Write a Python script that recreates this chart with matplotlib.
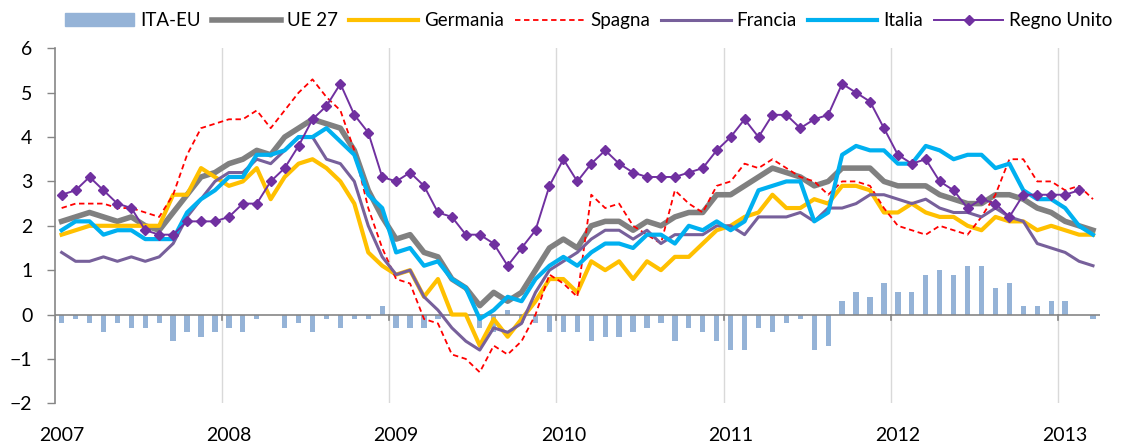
import matplotlib
matplotlib.use('agg')
import matplotlib.pyplot as plt
import numpy as np
from matplotlib.lines import Line2D
from matplotlib.patches import Patch

plt.rcParams['font.family'] = ['Lato', 'DejaVu Sans']

# monthly data, Jan 2007 - Mar 2013
years = ['2007', '2008', '2009', '2010', '2011', '2012', '2013']

ita_eu = [-0.2, -0.1, -0.2, -0.4, -0.2, -0.3, -0.3, -0.2, -0.6, -0.4, -0.5, -0.4,
          -0.3, -0.4, -0.1, 0.0, -0.3, -0.2, -0.4, -0.1, -0.3, -0.1, -0.1, 0.2,
          -0.3, -0.3, -0.3, -0.1, 0.0, 0.0, -0.3, -0.4, 0.1, -0.2, -0.2, -0.4,
          -0.4, -0.4, -0.6, -0.5, -0.5, -0.4, -0.3, -0.2, -0.6, -0.3, -0.4, -0.6,
          -0.8, -0.8, -0.3, -0.4, -0.2, -0.1, -0.8, -0.7, 0.3, 0.5, 0.4, 0.7,
          0.5, 0.5, 0.9, 1.0, 0.9, 1.1, 1.1, 0.6, 0.7, 0.2, 0.2, 0.3,
          0.3, 0.0, -0.1]

ue27 = [2.1, 2.2, 2.3, 2.2, 2.1, 2.2, 2.0, 1.9, 2.3, 2.7, 3.1, 3.2,
        3.4, 3.5, 3.7, 3.6, 4.0, 4.2, 4.4, 4.3, 4.2, 3.7, 2.8, 2.2,
        1.7, 1.8, 1.4, 1.3, 0.8, 0.6, 0.2, 0.5, 0.3, 0.5, 1.0, 1.5,
        1.7, 1.5, 2.0, 2.1, 2.1, 1.9, 2.1, 2.0, 2.2, 2.3, 2.3, 2.7,
        2.7, 2.9, 3.1, 3.3, 3.2, 3.1, 2.9, 3.0, 3.3, 3.3, 3.3, 3.0,
        2.9, 2.9, 2.9, 2.7, 2.6, 2.5, 2.5, 2.7, 2.7, 2.6, 2.4, 2.3,
        2.1, 2.0, 1.9]

germania = [1.8, 1.9, 2.0, 2.0, 2.0, 2.0, 2.0, 2.0, 2.7, 2.7, 3.3, 3.1,
            2.9, 3.0, 3.3, 2.6, 3.1, 3.4, 3.5, 3.3, 3.0, 2.5, 1.4, 1.1,
            0.9, 1.0, 0.4, 0.8, 0.0, 0.0, -0.7, -0.1, -0.5, -0.1, 0.3, 0.8,
            0.8, 0.5, 1.2, 1.0, 1.2, 0.8, 1.2, 1.0, 1.3, 1.3, 1.6, 1.9,
            2.0, 2.2, 2.3, 2.7, 2.4, 2.4, 2.6, 2.5, 2.9, 2.9, 2.8, 2.3,
            2.3, 2.5, 2.3, 2.2, 2.2, 2.0, 1.9, 2.2, 2.1, 2.1, 1.9, 2.0,
            1.9, 1.8, 1.8]

spagna = [2.4, 2.5, 2.5, 2.5, 2.4, 2.4, 2.3, 2.2, 2.7, 3.6, 4.2, 4.3,
          4.4, 4.4, 4.6, 4.2, 4.6, 5.0, 5.3, 4.9, 4.6, 3.7, 2.4, 1.5,
          0.8, 0.7, -0.1, -0.2, -0.9, -1.0, -1.3, -0.7, -0.9, -0.6, 0.0, 0.9,
          0.7, 0.4, 2.7, 2.4, 2.5, 2.0, 1.8, 1.6, 2.8, 2.5, 2.3, 2.9,
          3.0, 3.4, 3.3, 3.5, 3.3, 3.1, 3.0, 2.7, 3.0, 3.0, 2.9, 2.4,
          2.0, 1.9, 1.8, 2.0, 1.9, 1.8, 2.2, 2.7, 3.5, 3.5, 3.0, 3.0,
          2.8, 2.9, 2.6]

francia = [1.4, 1.2, 1.2, 1.3, 1.2, 1.3, 1.2, 1.3, 1.6, 2.2, 2.6, 3.0,
           3.2, 3.2, 3.5, 3.4, 3.7, 4.0, 4.0, 3.5, 3.4, 3.0, 2.0, 1.3,
           0.9, 1.0, 0.4, 0.1, -0.3, -0.6, -0.8, -0.3, -0.4, -0.2, 0.5, 1.0,
           1.2, 1.4, 1.7, 1.9, 1.9, 1.7, 1.9, 1.6, 1.8, 1.8, 1.8, 2.0,
           2.0, 1.8, 2.2, 2.2, 2.2, 2.3, 2.1, 2.4, 2.4, 2.5, 2.7, 2.7,
           2.6, 2.5, 2.6, 2.4, 2.3, 2.3, 2.2, 2.4, 2.2, 2.1, 1.6, 1.5,
           1.4, 1.2, 1.1]

italia = [1.9, 2.1, 2.1, 1.8, 1.9, 1.9, 1.7, 1.7, 1.7, 2.3, 2.6, 2.8,
          3.1, 3.1, 3.6, 3.6, 3.7, 4.0, 4.0, 4.2, 3.9, 3.6, 2.7, 2.4,
          1.4, 1.5, 1.1, 1.2, 0.8, 0.6, -0.1, 0.1, 0.4, 0.3, 0.8, 1.1,
          1.3, 1.1, 1.4, 1.6, 1.6, 1.5, 1.8, 1.8, 1.6, 2.0, 1.9, 2.1,
          1.9, 2.1, 2.8, 2.9, 3.0, 3.0, 2.1, 2.3, 3.6, 3.8, 3.7, 3.7,
          3.4, 3.4, 3.8, 3.7, 3.5, 3.6, 3.6, 3.3, 3.4, 2.8, 2.6, 2.6,
          2.4, 2.0, 1.8]

regno_unito = [2.7, 2.8, 3.1, 2.8, 2.5, 2.4, 1.9, 1.8, 1.8, 2.1, 2.1, 2.1,
               2.2, 2.5, 2.5, 3.0, 3.3, 3.8, 4.4, 4.7, 5.2, 4.5, 4.1, 3.1,
               3.0, 3.2, 2.9, 2.3, 2.2, 1.8, 1.8, 1.6, 1.1, 1.5, 1.9, 2.9,
               3.5, 3.0, 3.4, 3.7, 3.4, 3.2, 3.1, 3.1, 3.1, 3.2, 3.3, 3.7,
               4.0, 4.4, 4.0, 4.5, 4.5, 4.2, 4.4, 4.5, 5.2, 5.0, 4.8, 4.2,
               3.6, 3.4, 3.5, 3.0, 2.8, 2.4, 2.6, 2.5, 2.2, 2.7, 2.7, 2.7,
               2.7, 2.8, np.nan]

x = np.arange(len(italia))

fig = plt.figure(figsize=(11.32, 4.43), dpi=100)
ax = fig.add_axes([0.0483, 0.0896, 0.9234, 0.8014])

# year gridlines between December and January
for k in range(1, 7):
    ax.axvline(12 * k - 0.5, color='#d9d9d9', lw=1.0, zorder=0)

ax.bar(x, ita_eu, width=0.38, color='#95b3d7', zorder=1)
ax.axhline(0, color='#868686', lw=1.2, zorder=2)
for k in range(0, 7):
    ax.plot([12 * k - 0.5, 12 * k - 0.5], [0, -0.12], color='#868686', lw=1.2, zorder=2)

ax.plot(x, ue27, color='#808080', lw=4.0, zorder=3)
ax.plot(x, germania, color='#ffc000', lw=3.0, zorder=3)
ax.plot(x, spagna, color='#ff0000', lw=1.3, ls=(0, (3, 2)), zorder=3)
ax.plot(x, francia, color='#77609b', lw=2.2, zorder=3)
ax.plot(x, italia, color='#00b0f0', lw=3.0, zorder=3)
ax.plot(x, regno_unito, color='#7030a0', lw=1.4, marker='D', ms=5.5, zorder=4)

ax.set_xlim(-0.5, len(x) - 0.5)
ax.set_ylim(-2, 6)
ax.set_yticks(range(-2, 7))
ax.set_xticks(range(0, len(x), 12))
ax.set_xticklabels(years)
ax.tick_params(axis='x', length=0, pad=17, labelsize=14)
ax.tick_params(axis='y', length=6, width=1.0, color='#868686', pad=10, labelsize=14)
for s in ['top', 'right', 'bottom']:
    ax.spines[s].set_visible(False)
ax.spines['left'].set_color('#868686')
ax.spines['left'].set_linewidth(1.2)

handles = [Patch(color='#95b3d7'),
           Line2D([], [], color='#808080', lw=4.0),
           Line2D([], [], color='#ffc000', lw=3.0),
           Line2D([], [], color='#ff0000', lw=1.3, ls=(0, (3, 2))),
           Line2D([], [], color='#77609b', lw=2.2),
           Line2D([], [], color='#00b0f0', lw=3.0),
           Line2D([], [], color='#7030a0', lw=1.4, marker='D', ms=5.5)]
labels = ['ITA-EU', 'UE 27', 'Germania', 'Spagna', 'Francia', 'Italia', 'Regno Unito']
fig.legend(handles, labels, loc='center', bbox_to_anchor=(0.52, 0.953), ncol=7,
           frameon=False, fontsize=13.5, handlelength=3.7, handletextpad=0.3,
           columnspacing=0.6, borderaxespad=0)

fig.savefig('out.png', dpi=100)
